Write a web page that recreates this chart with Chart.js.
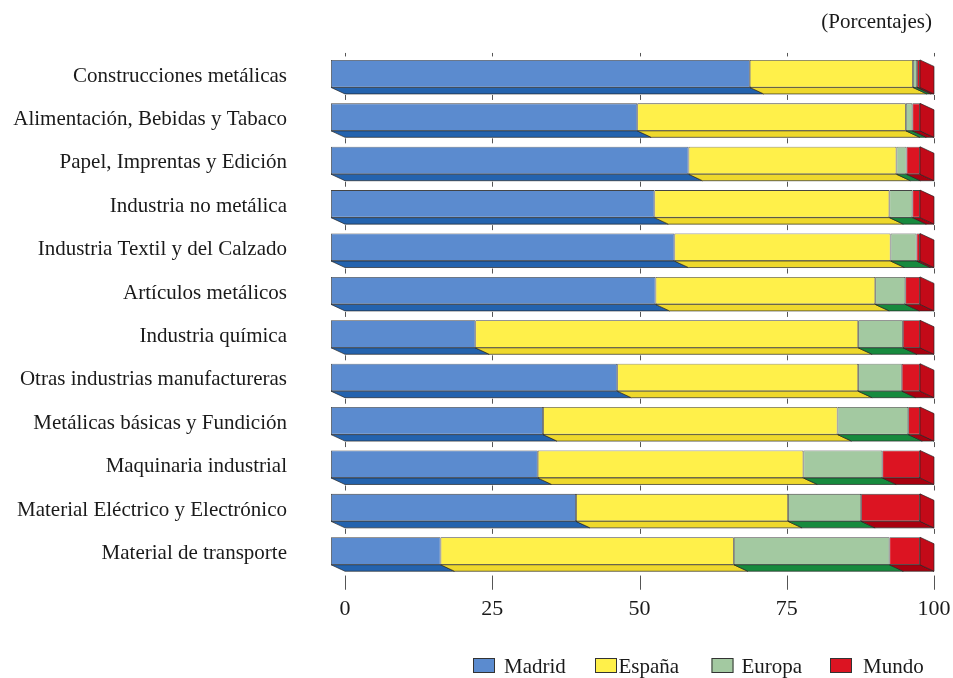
<!DOCTYPE html>
<html><head><meta charset="utf-8">
<script src="https://cdn.jsdelivr.net/npm/chart.js@4"></script>
<style>html,body{margin:0;padding:0;background:#fff;}#wrap{width:953px;height:678px;position:relative;}</style>
</head><body><div id="wrap"><canvas id="c" width="953" height="678"></canvas></div>
<script>
const categories = [
  'Construcciones metálicas',
  'Alimentación, Bebidas y Tabaco',
  'Papel, Imprentas y Edición',
  'Industria no metálica',
  'Industria Textil y del Calzado',
  'Artículos metálicos',
  'Industria química',
  'Otras industrias manufactureras',
  'Metálicas básicas y Fundición',
  'Maquinaria industrial',
  'Material Eléctrico y Electrónico',
  'Material de transporte'
];
const madrid = [71.1, 52.0, 60.7, 54.9, 58.3, 55.1, 24.5, 48.6, 36.0, 35.1, 41.6, 18.6];
const espana = [27.7, 45.6, 35.3, 39.9, 36.7, 37.3, 65.0, 40.9, 50.0, 45.1, 36.0, 49.8];
const europa = [0.7, 1.1, 1.7, 3.9, 4.4, 5.1, 7.6, 7.4, 12.0, 13.4, 12.4, 26.4];
const mundo  = [0.5, 1.3, 2.3, 1.3, 0.6, 2.5, 2.9, 3.1, 2.0, 6.4, 10.0, 5.2];
const tickValues = [0, 25, 50, 75, 100];
const seriesNames = ['Madrid', 'España', 'Europa', 'Mundo'];
const unitNote = '(Porcentajes)';

const frontColors  = ['#5b8bcf', '#fff04a', '#a3c9a1', '#dc1422'];
const bottomColors = ['#2463ae', '#eed82c', '#178a3e', '#a8000f'];
const sideColors   = ['#2f6fb8', '#f2dc30', '#2f9a50', '#c30a18'];
const DX = 14, DY = 6.5;
const FONT = "'Liberation Serif', 'Times New Roman', serif";
const edge = 'rgba(35,35,35,0.85)';

const threeD = {
  id: 'threeD',
  beforeDatasetsDraw(chart) {
    const ctx = chart.ctx;
    const xs = chart.scales.x;
    const meta0 = chart.getDatasetMeta(0);
    ctx.save();
    ctx.strokeStyle = '#555';
    ctx.lineWidth = 1;
    const n = meta0.data.length;
    meta0.data.forEach((el, i) => {
      const p = el.getProps(['y', 'height'], true);
      const yt = p.y - p.height / 2, yb = p.y + p.height / 2;
      tickValues.forEach(v => {
        const px = Math.round(xs.getPixelForValue(v) + DX) + 0.5;
        ctx.beginPath();
        if (i === 0) { ctx.moveTo(px, yt - 7); ctx.lineTo(px, yt - 3.5); }
        if (i < n - 1) { ctx.moveTo(px, yb + DY + 1); ctx.lineTo(px, yb + DY + 6); }
        else { ctx.moveTo(px, yb + DY + 4.3); ctx.lineTo(px, yb + DY + 18.5); }
        ctx.stroke();
      });
    });
    ctx.restore();
  },
  afterDatasetsDraw(chart) {
    const ctx = chart.ctx;
    ctx.save();
    ctx.lineWidth = 0.8;
    ctx.strokeStyle = edge;
    const nd = chart.data.datasets.length;
    const lastIdx = [];
    for (let d = 0; d < nd; d++) {
      const meta = chart.getDatasetMeta(d);
      meta.data.forEach((el, i) => {
        const p = el.getProps(['x', 'base', 'y', 'height'], true);
        const l = Math.min(p.x, p.base), r = Math.max(p.x, p.base);
        const yb = p.y + p.height / 2;
        if (r - l > 0.01) {
          ctx.beginPath();
          ctx.moveTo(l, yb); ctx.lineTo(r, yb); ctx.lineTo(r + DX, yb + DY); ctx.lineTo(l + DX, yb + DY);
          ctx.closePath();
          ctx.fillStyle = bottomColors[d];
          ctx.fill(); ctx.stroke();
          lastIdx[i] = d;
        }
      });
    }
    for (let i = 0; i < lastIdx.length; i++) {
      const d = lastIdx[i];
      const el = chart.getDatasetMeta(d).data[i];
      const p = el.getProps(['x', 'base', 'y', 'height'], true);
      const r = Math.max(p.x, p.base);
      const yt = p.y - p.height / 2, yb = p.y + p.height / 2;
      ctx.beginPath();
      ctx.moveTo(r, yt); ctx.lineTo(r + DX, yt + DY); ctx.lineTo(r + DX, yb + DY); ctx.lineTo(r, yb);
      ctx.closePath();
      ctx.fillStyle = sideColors[d];
      ctx.fill(); ctx.stroke();
    }
    ctx.restore();
  },
  afterDraw(chart) {
    const ctx = chart.ctx;
    ctx.save();
    ctx.font = '21px ' + FONT;
    ctx.fillStyle = '#1a1a1a';
    ctx.textBaseline = 'middle';
    ctx.textAlign = 'right';
    ctx.fillText(unitNote, 932, 22);
    // legend
    const boxX = [473, 595, 711.5, 830];
    const textX = [504, 618.5, 741.5, 863];
    ctx.textAlign = 'left';
    chart.data.datasets.forEach((ds, d) => {
      ctx.fillStyle = ds.backgroundColor;
      ctx.fillRect(boxX[d], 658, 22, 15);
      ctx.strokeStyle = '#333';
      ctx.lineWidth = 1;
      ctx.strokeRect(boxX[d] + 0.5, 658.5, 21, 14);
      ctx.fillStyle = '#1a1a1a';
      ctx.fillText(ds.label, textX[d], 667);
    });
    ctx.restore();
  }
};

const seriesData = [madrid, espana, europa, mundo];
new Chart(document.getElementById('c'), {
  type: 'bar',
  data: {
    labels: categories,
    datasets: seriesData.map((arr, d) => ({
      label: seriesNames[d],
      data: arr,
      backgroundColor: frontColors[d],
      borderColor: edge,
      borderWidth: 0.8,
      borderSkipped: false,
      categoryPercentage: 0.634,
      barPercentage: 1
    }))
  },
  options: {
    indexAxis: 'y',
    responsive: false,
    animation: false,
    devicePixelRatio: 1,
    layout: { padding: { top: 52, right: 33, bottom: 45.3, left: 0 } },
    plugins: { legend: { display: false }, tooltip: { enabled: false }, title: { display: false } },
    scales: {
      x: {
        stacked: true, min: 0, max: 100,
        afterFit(s) { s.height = 60; s.paddingLeft = 0; s.paddingRight = 0; },
        afterBuildTicks(s) { s.ticks = tickValues.map(v => ({ value: v })); },
        grid: { display: false, drawTicks: false },
        border: { display: false },
        ticks: { labelOffset: DX, padding: 23, color: '#1a1a1a', font: { family: FONT, size: 22 }, maxRotation: 0 }
      },
      y: {
        stacked: true,
        afterFit(s) { s.width = 331; s.paddingTop = 0; s.paddingBottom = 0; },
        grid: { display: false, drawTicks: false },
        border: { display: false },
        ticks: { padding: 44, labelOffset: 2.5, color: '#1a1a1a', font: { family: FONT, size: 21 } }
      }
    }
  },
  plugins: [threeD]
});
</script>
</body></html>
